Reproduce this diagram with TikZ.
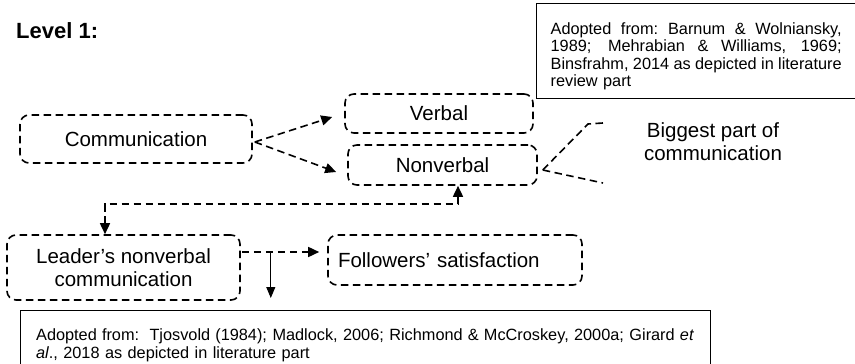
\documentclass[tikz,border=0pt]{standalone}
\usepackage{fontspec}
\setmainfont{Liberation Sans}
\usetikzlibrary{arrows.meta,calc}
\newcommand\myjline[2]{\leavevmode\hbox to #1{\spaceskip=0.278em plus 1fil minus 0.08em\xspaceskip=0.3em plus 1fil minus 0.08em\relax #2}}
\tikzset{
  dbox/.style={draw, line width=1.6pt, dash pattern=on 7.5pt off 4.5pt, rounded corners=9pt, inner sep=0pt, font=\fontsize{20.5}{23}\selectfont, align=center},
  dline/.style={line width=1.6pt, dash pattern=on 7.5pt off 4.5pt},
  tipb/.style={-{Triangle[width=10pt,length=11pt]}},
  refbox/.style={draw, line width=1.3pt, align=left},
}
\begin{document}
\begin{tikzpicture}[x=1pt,y=-1pt]
\path[use as bounding box, clip] (0,0) rectangle (855,364);
% title
\node[anchor=west, font=\fontsize{22}{24}\selectfont\bfseries, inner sep=0pt] (lvl) at (16,31) {Level 1:};
% top reference box
\node[refbox, font=\fontsize{16.3}{17.5}\selectfont, anchor=north west, text width=291pt, inner xsep=14pt, inner ysep=0pt, minimum height=95pt] (topref) at (536,3)
 {\myjline{291pt}{\rule{0pt}{22pt}Adopted from: Barnum \& Wolniansky,}\\
  \myjline{291pt}{1989; Mehrabian \& Williams, 1969;}\\
  \myjline{291pt}{Binsfrahm, 2014 as depicted in literature}\\
  review part};
% main boxes
\node[dbox, minimum width=232pt, minimum height=48pt] (comm) at (136,139) {Communication};
\node[dbox, minimum width=188pt, minimum height=39pt] (verbal) at (439,113.5) {Verbal};
\node[dbox, minimum width=189pt, minimum height=40pt] (nonverbal) at (442.5,165) {Nonverbal};
\node[dbox, minimum width=233pt, minimum height=65pt] (leader) at (123.5,267.5) {Leader’s nonverbal\\communication};
\node[dbox, minimum width=254pt, minimum height=50pt, text width=234pt, inner xsep=10pt, align=left] (follow) at (455,260) {Followers’ satisfaction};
% text at right
\node[font=\fontsize{20.5}{23}\selectfont, align=center, inner sep=0pt] (big) at (713,142) {Biggest part of\\communication};
% bottom reference box
\node[refbox, font=\fontsize{16.3}{18}\selectfont, anchor=north west, text width=658pt, inner xsep=16pt, inner ysep=6pt, minimum height=70pt] (botref) at (19.5,310)
 {\myjline{658pt}{Adopted from:\ \ Tjosvold (1984); Madlock, 2006; Richmond \& McCroskey, 2000a; Girard \textit{et}}\\
  \textit{al}., 2018 as depicted in literature part};
% connectors
\draw[dline, tipb] ($(comm.east)+(2,3)$) -- ($(verbal.west)+(-12,3.5)$);
\draw[dline, tipb] ($(comm.east)+(2,3)$) -- ($(nonverbal.west)+(-11,7)$);
\coordinate (lt) at ($(leader.north)+(-18.5,0)$);
\coordinate (nb) at ($(nonverbal.south)+(15.5,0)$);
\draw[dline, {Triangle[width=10pt,length=11pt]}-{Triangle[width=10pt,length=11pt]}] (lt) -- ++(0,-30) -| (nb);
\coordinate (ls) at ($(leader.east)+(1,-15.5)$);
\draw[dline, tipb, shorten >=8pt] (ls) -- (ls -| follow.west);
\coordinate (sa) at ($(ls)+(29,1)$);
\draw[line width=1pt, -{Triangle[width=9pt,length=11pt]}, shorten >=12pt] (sa) -- (sa |- botref.north);
% brace-like dashed lines to the note
\coordinate (apex) at ($(nonverbal.east)+(5,5)$);
\coordinate (b1) at (603,123);
\coordinate (b2) at (603,183);
\draw[dline] (apex) -- (588,124) -- (b1);
\draw[dline] (apex) -- (b2);
\end{tikzpicture}
\end{document}
